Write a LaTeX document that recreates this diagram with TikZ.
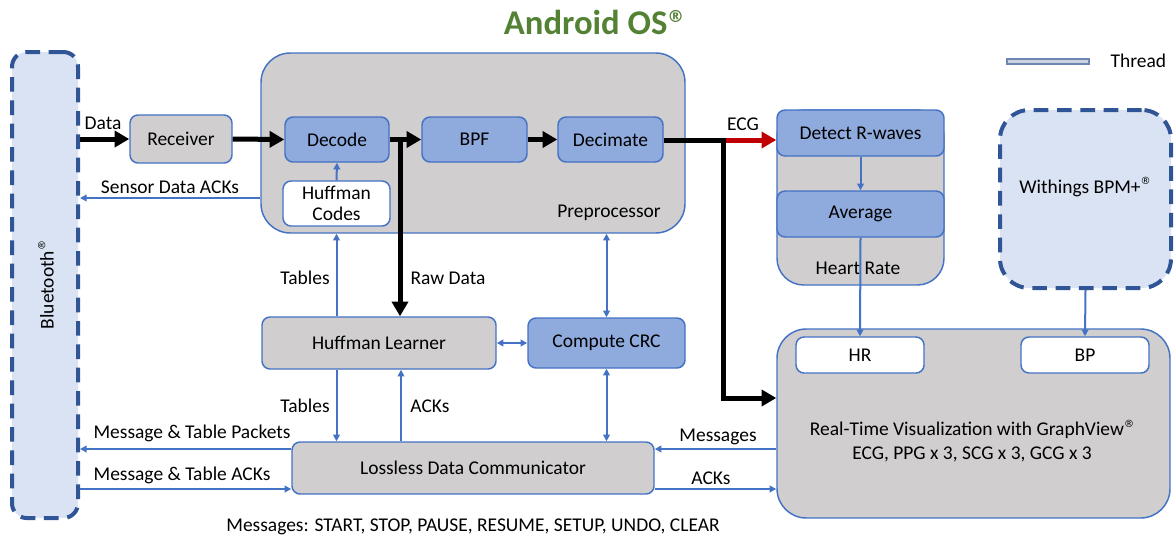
\documentclass[tikz,border=0pt]{standalone}
\usepackage{fontspec}
\setmainfont{Carlito}
\newfontfamily\regfont{DejaVu Sans}
\usetikzlibrary{arrows.meta,fit}
\definecolor{gfill}{HTML}{D0CECE}
\definecolor{bfill}{HTML}{8FAADC}
\definecolor{bline}{HTML}{4472C4}
\definecolor{dline}{HTML}{2F5597}
\definecolor{dfill}{HTML}{DAE3F3}
\definecolor{tgreen}{HTML}{548235}
\definecolor{ecgred}{HTML}{C00000}
\definecolor{legfill}{HTML}{C9D1E3}
\definecolor{legline}{HTML}{6F86B5}
\newcommand\myreg{\raisebox{0.42em}{\regfont\fontsize{7.5}{8}\selectfont ®}}
\begin{document}
\begin{tikzpicture}[x=0.75pt,y=-0.75pt, font=\fontsize{14.6}{17}\selectfont,
 base/.style={draw=bline, line width=1.1pt, inner sep=0pt},
 gbox/.style={base, fill=gfill, rounded corners=6pt},
 bbox/.style={base, fill=bfill, rounded corners=6pt},
 wbox/.style={base, fill=white, rounded corners=6pt},
 cont/.style={base, fill=gfill, rounded corners=22pt},
 txt/.style={label={[align=center, inner sep=0pt]center:#1}},
 dbox/.style={draw=dline, fill=dfill, line width=3pt, dash pattern=on 11pt off 6.5pt, inner sep=0pt},
 thk/.style={line width=3.75pt, black},
 thka/.style={thk, -{Triangle[length=11pt,width=12pt]}},
 reda/.style={line width=3.75pt, ecgred, -{Triangle[length=11pt,width=12pt]}},
 barr/.style={bline, line width=1.5pt, -{Triangle[length=5pt,width=5pt]}},
 bdbl/.style={bline, line width=1.5pt, {Triangle[length=5pt,width=5pt]}-{Triangle[length=5pt,width=5pt]}},
 lbl/.style={inner sep=1pt},
]
\useasboundingbox (0,0) rectangle (1174,540);

% title and legend
\node[font=\fontsize{26}{30}\selectfont\bfseries, text=tgreen] (title) at (594,22) {Android OS\raisebox{0.33em}{\regfont\bfseries\fontsize{12.5}{13}\selectfont ®}};
\node[draw=legline, fill=legfill, line width=0.9pt, inner sep=0pt, fit={(1007,59) (1089,64)}] (leg) {};
\node[lbl, anchor=west] (legt) at (1109,61) {Thread};

% Bluetooth
\node[dbox, rounded corners=11pt, fit={(12,52) (78,518)}] (bt) {};
\node[rotate=90] (btl) at (46,285) {Bluetooth\myreg};

% Receiver
\node[gbox, fit={(130,115) (232,163)}, txt={Receiver}] (rec) {};

% Preprocessor
\node[cont, fit={(261,53) (685,233)}] (pre) {};
\node[lbl] (prel) at (609,213) {Preprocessor};
\node[bbox, fit={(285,117) (389,162)}, txt={Decode}] (dcd) {};
\node[bbox, fit={(422,117) (527,162)}, txt={BPF}] (bpf) {};
\node[bbox, fit={(558,117) (663,162)}, txt={Decimate}] (dec) {};
\node[wbox, fit={(283,181) (390,226)}, txt={Huffman\\[-1pt]Codes}] (hc) {};

% Heart rate
\node[cont, rounded corners=20pt, fit={(777,110) (944,285)}] (hrc) {};
\node[lbl] (hrl) at (858,268) {Heart Rate};
\node[bbox, fit={(777,110) (944,156)}, txt={Detect R-waves}] (det) {};
\node[bbox, fit={(777,191) (944,237)}, txt={Average}] (avg) {};

% Withings
\node[dbox, rounded corners=22pt, fit={(1000,110) (1171,288)}] (wit) {};
\node (witl) at (1085,187) {Withings BPM+\myreg};

% Huffman learner, CRC, communicator
\node[gbox, fit={(262,317) (496,369)}, txt={Huffman Learner}] (hl) {};
\node[bbox, fit={(528,318) (685,368)}, txt={Compute CRC}] (crc) {};
\node[gbox, fit={(292,442) (654,494)}, txt={Lossless Data Communicator}] (ldc) {};

% Visualization
\node[cont, fit={(777,329) (1170,518)}] (vis) {};
\node[wbox, fit={(796,337) (924,373)}, txt={HR}] (hr) {};
\node[wbox, fit={(1021,337) (1149,373)}, txt={BP}] (bp) {};
\node[align=center, font=\fontsize{14.6}{18}\selectfont] (visl) at (972,441) {Real-Time Visualization with GraphView\myreg\\ECG, PPG x 3, SCG x 3, GCG x 3};

% black data path
\coordinate (rd) at (400,140);
\coordinate (j) at (723,140);
\draw[thka] (bt.east |- rec) -- (rec.west);
\node[lbl] (datal) at (103,123) {Data};
\draw[thka] (rec.east) -- (dcd.west);
\draw[thka] (dcd.east) -- (bpf.west);
\draw[thka] (bpf.east) -- (dec.west);
\draw[thk] (dec.east |- j) -- (j);
\draw[reda] ([xshift=-1.4pt]j) -- (det.west |- j);
\node[lbl] (ecgl) at (743,124) {ECG};
\draw[thka] ([yshift=1.4pt]j) |- (vis.west |- 0,398);
\draw[thka] (rd) -- (hl.north -| rd);
\node[lbl, anchor=west] (rawl) at (409,278) {Raw Data};

% blue connectors
\draw[barr] (pre.west |- 0,198) -- (bt.east |- 0,198);
\node[lbl] (sdal) at (170,187) {Sensor Data ACKs};
\draw[barr] (hc.north) -- (dcd.south);
\draw[barr] (det.south) -- (avg.north);
\draw[barr] (avg.south) -- (hr.north);
\draw[barr] (wit.south) -- (bp.north);
\draw[barr] (hl.north -| hc.south) -- (pre.south -| hc.south);
\node[lbl] (tab1) at (305,278) {Tables};
\draw[bdbl] (crc.north) -- (pre.south -| crc.north);
\draw[bdbl] (hl.east) -- (crc.west);
\draw[bdbl] (crc.south) -- (ldc.north -| crc.south);
\draw[barr] (hl.south -| hc.south) -- (ldc.north -| hc.south);
\node[lbl] (tab2) at (305,406) {Tables};
\draw[barr] (ldc.north -| 401,0) -- (hl.south -| 401,0);
\node[lbl] (ack1) at (430,406) {ACKs};
\draw[barr] (ldc.west |- 0,449) -- (bt.east |- 0,449);
\node[lbl] (mtp) at (192,433) {Message \& Table Packets};
\draw[barr] (bt.east |- 0,489) -- (ldc.west |- 0,489);
\node[lbl] (mta) at (182,475) {Message \& Table ACKs};
\draw[barr] (vis.west |- 0,449) -- (ldc.east |- 0,449);
\node[lbl] (msgl) at (718,437) {Messages};
\draw[barr] (ldc.east |- 0,489) -- (vis.west |- 0,489);
\node[lbl] (ack2) at (711,478) {ACKs};

\node (msgs) at (473,527) {Messages: START, STOP, PAUSE, RESUME, SETUP, UNDO, CLEAR};
\end{tikzpicture}
\end{document}
